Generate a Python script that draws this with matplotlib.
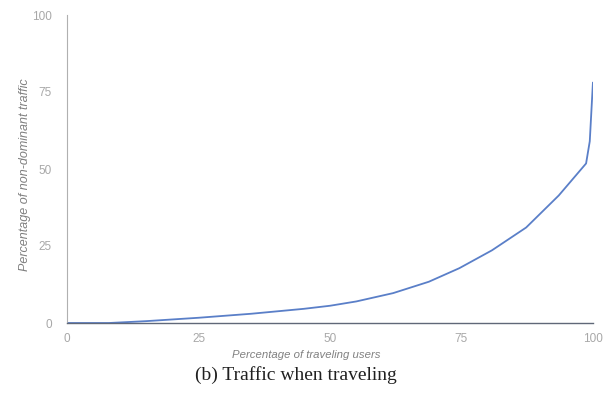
import matplotlib
matplotlib.use("Agg")
import matplotlib.pyplot as plt

# share of travelling users (%) vs. share of non-dominant traffic (%)
traveling_users = [0, 8, 15, 25, 35, 45, 50, 55, 62, 68.8, 74.6, 80.8, 87.3, 93.5, 98.7, 99.4, 100]
non_dominant = [0, 0, 0.6, 1.7, 3.0, 4.6, 5.6, 7.0, 9.7, 13.4, 17.8, 23.6, 31.0, 41.4, 51.8, 59.0, 78.0]

x_ticks = [0, 25, 50, 75, 100]
y_ticks = [0, 25, 50, 75, 100]

fig = plt.figure(figsize=(6.1, 4.0), dpi=100)
ax = fig.add_axes([0.11, 0.1925, 0.862, 0.77])

ax.plot(traveling_users, non_dominant, color="#5a7fc8", linewidth=1.3)

ax.set_xlim(0, 100)
ax.set_ylim(0, 100)
ax.set_xticks(x_ticks)
ax.set_yticks(y_ticks)
ax.tick_params(length=0, labelsize=8.5, labelcolor="#a8a8a8")
ax.tick_params(axis="x", pad=7)
ax.tick_params(axis="y", pad=11)
for lbl in ax.get_xticklabels() + ax.get_yticklabels():
    lbl.set_family("Liberation Sans")

for side in ("top", "right"):
    ax.spines[side].set_visible(False)
ax.spines["left"].set_color("#b0b0b0")
ax.spines["left"].set_linewidth(0.8)
ax.spines["bottom"].set_color("#606878")
ax.spines["bottom"].set_linewidth(1.0)

ax.set_xlabel("Percentage of traveling users", fontsize=8.2, style="italic",
              color="#808080", family="Liberation Sans", va="center")
ax.xaxis.set_label_coords(0.454, -0.104)
ax.set_ylabel("Percentage of non-dominant traffic", fontsize=9, style="italic",
              color="#808080", family="Liberation Sans", va="center")
ax.yaxis.set_label_coords(-0.08, 0.48)

fig.text(0.485, 0.0625, "(b) Traffic when traveling", ha="center", va="center",
         fontsize=14, family="Liberation Serif", color="#202020")

fig.savefig("out.png", dpi=100)
